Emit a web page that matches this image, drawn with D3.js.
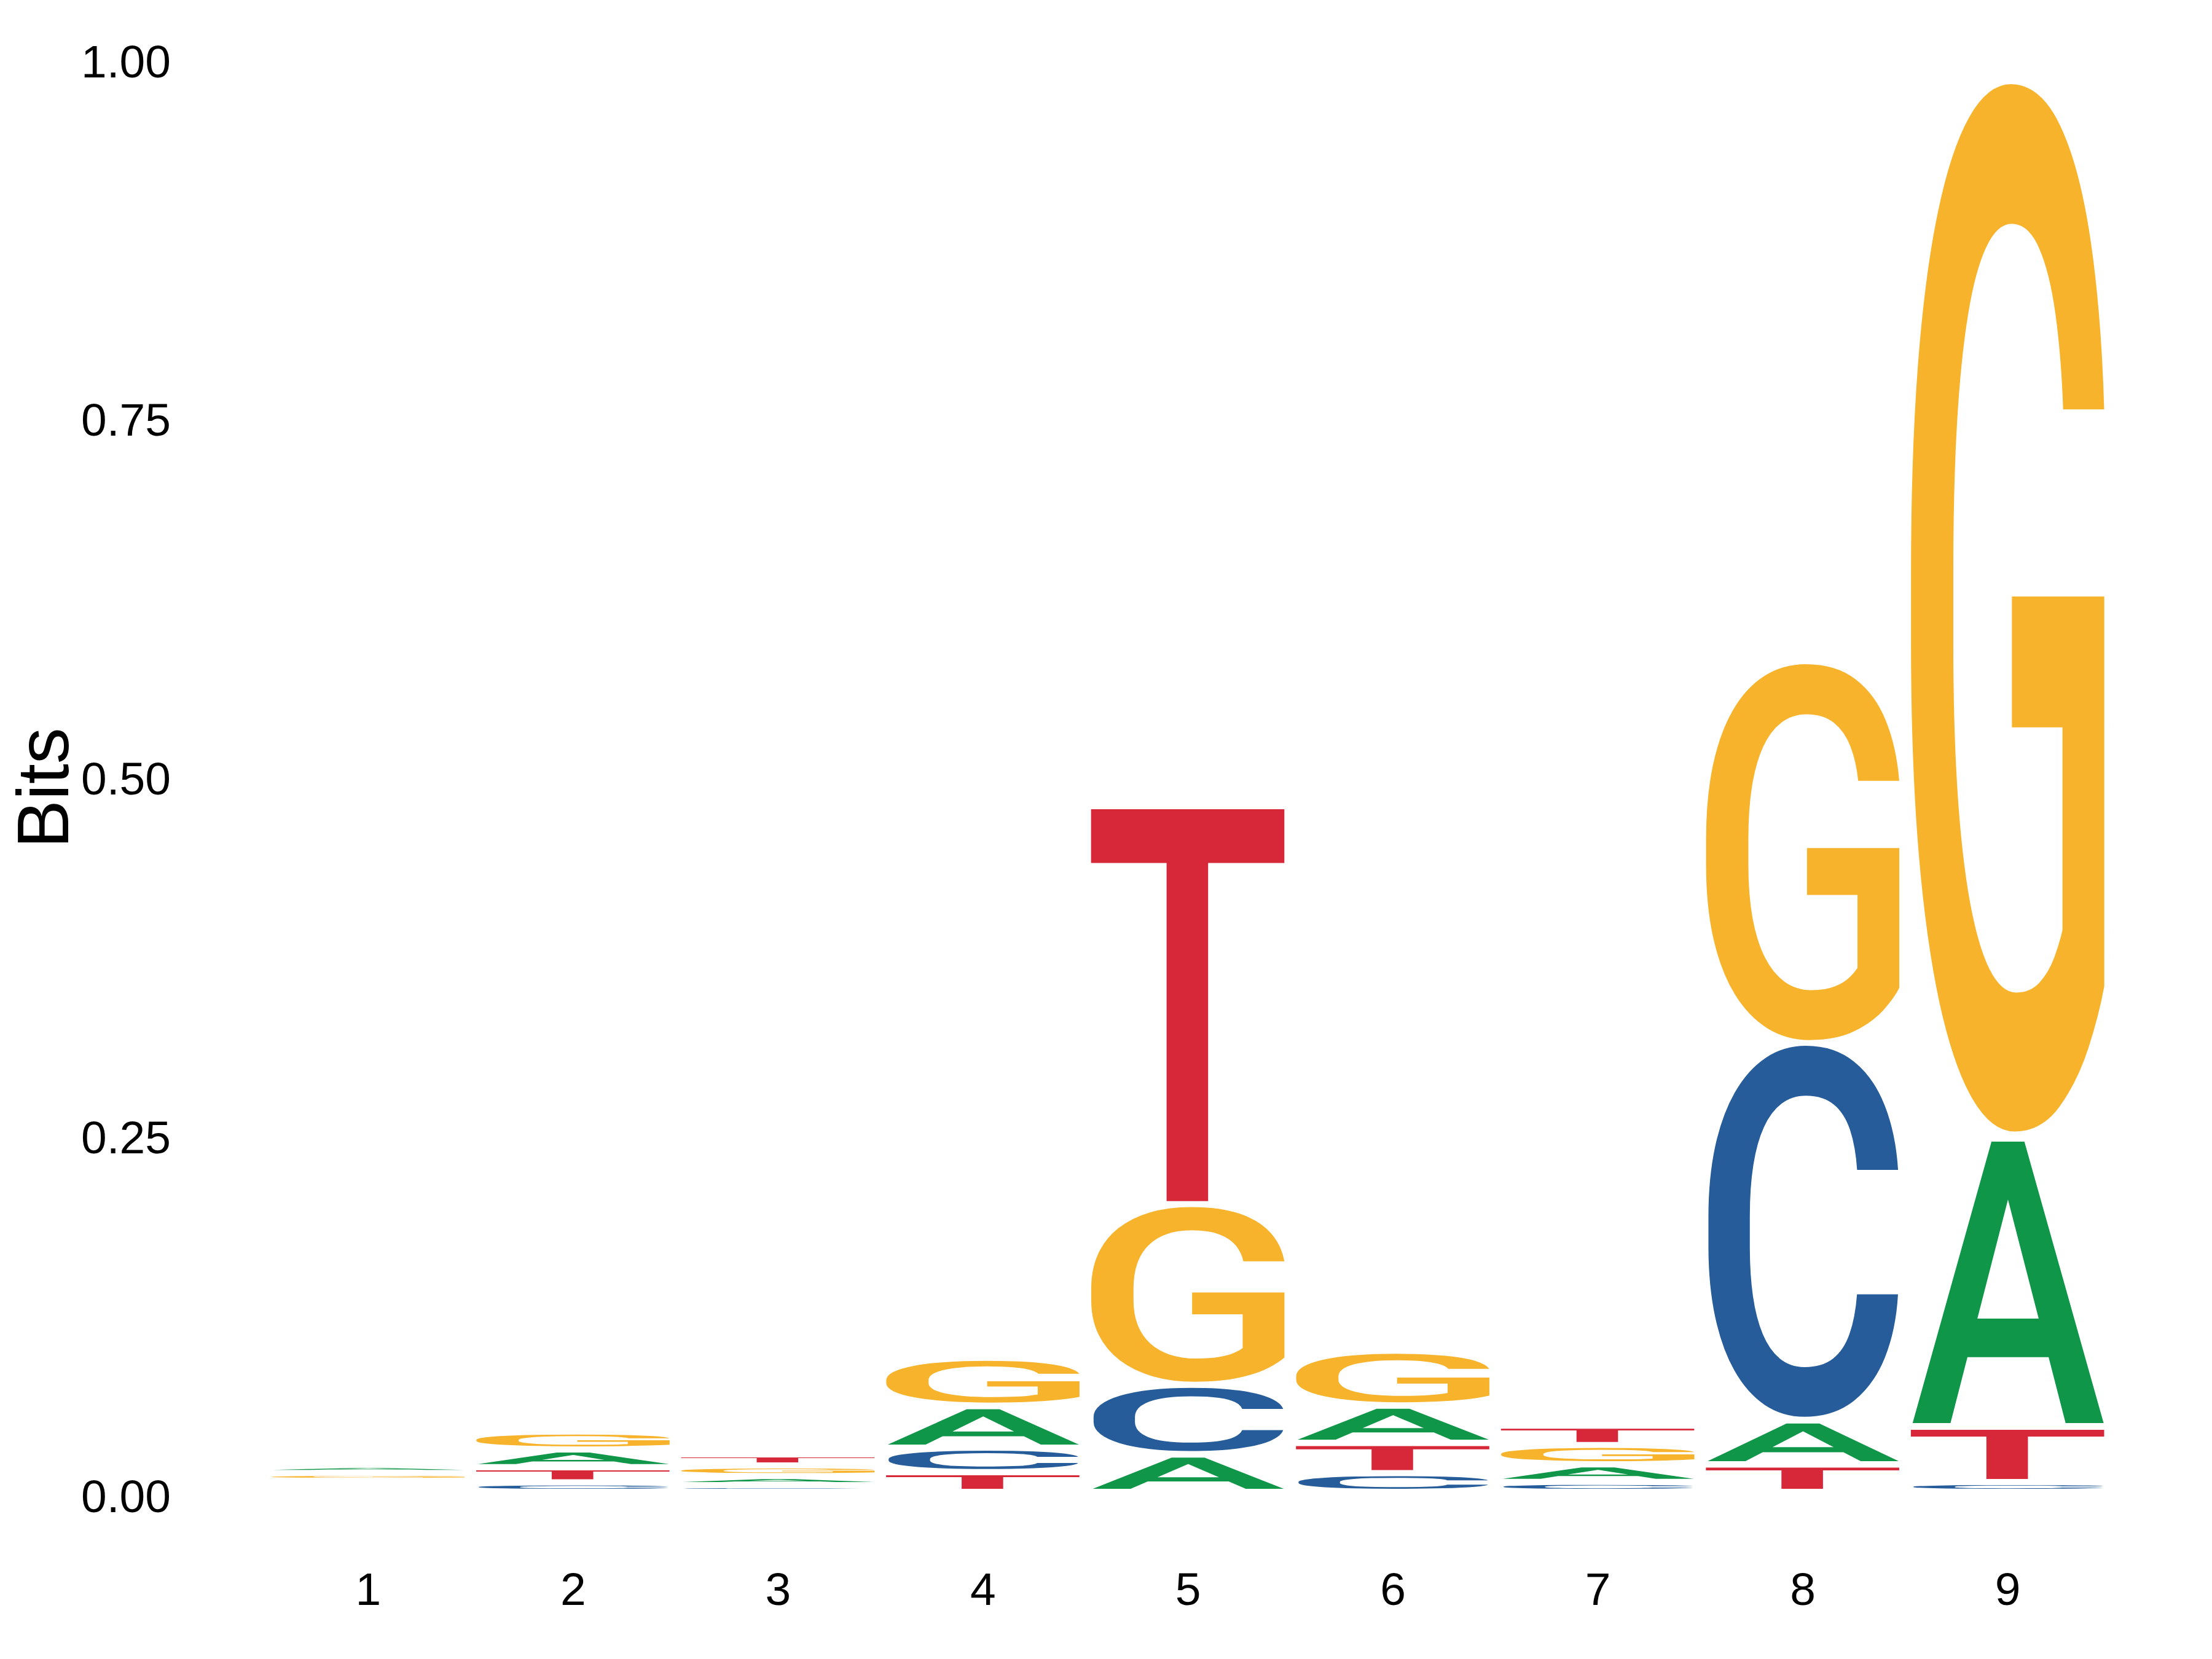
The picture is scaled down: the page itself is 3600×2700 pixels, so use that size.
<!DOCTYPE html>
<html>
<head>
<meta charset="utf-8">
<script src="https://cdn.jsdelivr.net/npm/d3@7"></script>
<style>
  html, body { margin: 0; padding: 0; background: #fff; }
</style>
</head>
<body>
<script>
// information content (bits) per position, one array per base
const positions = [1, 2, 3, 4, 5, 6, 7, 8, 9]
const bases = ["A", "C", "G", "T"]
const bitsA = [0.0056, 0.0124, 0.0063, 0.0293, 0.0263, 0.0260, 0.0123, 0.0308, 0.2030]
const bitsC = [0.0037, 0.0066, 0.0047, 0.0170, 0.0483, 0.0131, 0.0070, 0.2626, 0.0069]
const bitsG = [0.0055, 0.0125, 0.0074, 0.0333, 0.1259, 0.0380, 0.0134, 0.2660, 0.7335]
const bitsT = [0.0040, 0.0106, 0.0078, 0.0138, 0.2809, 0.0212, 0.0136, 0.0193, 0.0389]
const yTicks = [0, 0.25, 0.5, 0.75, 1]
const colors = {A: "#109648", C: "#255C99", G: "#F7B32B", T: "#D62839"}

let w = 3600, h = 2700
let gap = 10
let letterFont = "Roboto"
let letterWeight = 500

let svg = d3.select("body").append("svg")
    .attr("width", w)
    .attr("height", h)

let x = d3.scaleLinear().domain([0.5, 9.5]).range([432, 3434])
let y = d3.scaleLinear().domain([0, 1]).range([2433, 98])
let colW = (x(1) - x(0)) * 0.95

// stack letters: smallest at the bottom
let series = {A: bitsA, C: bitsC, G: bitsG, T: bitsT}
let stacks = []
positions.forEach((p, i) => {
    let col = bases.map(b => ({base: b, bits: series[b][i]}))
        .sort((a, b) => a.bits - b.bits)
    let acc = 0
    col.forEach(d => {
        d.pos = p
        d.y0 = acc
        acc += d.bits
        d.y1 = acc
        stacks.push(d)
    })
})

// ink bounds of each glyph, measured on a canvas
let ctx = document.createElement("canvas").getContext("2d")
ctx.font = letterWeight + " 100px " + letterFont
let ink = {}
bases.forEach(b => {
    let m = ctx.measureText(b)
    ink[b] = {l: m.actualBoundingBoxLeft, r: m.actualBoundingBoxRight,
              a: m.actualBoundingBoxAscent, d: m.actualBoundingBoxDescent}
})

svg.append("g").attr("class", "letters")
    .selectAll("text")
    .data(stacks.filter(d => y(d.y0) - gap - y(d.y1) > 0))
    .enter()
    .append("text")
    .text(d => d.base)
    .attr("font-family", letterFont)
    .attr("font-weight", letterWeight)
    .attr("font-size", 100)
    .attr("fill", d => colors[d.base])
    .attr("transform", d => {
        let g = ink[d.base]
        let bx0 = x(d.pos) - colW / 2
        let by0 = y(d.y1)
        let bh = y(d.y0) - gap - y(d.y1)
        let sx = colW / (g.l + g.r)
        let sy = bh / (g.a + g.d)
        return "translate(" + (bx0 + g.l * sx) + "," + (by0 + g.a * sy) + ") scale(" + sx + "," + sy + ")"
    })

//add axis
let yAxis = d3.axisLeft(y).tickValues(yTicks).tickFormat(d3.format(".2f")).tickSize(0).tickPadding(22)
let xAxis = d3.axisBottom(x).tickValues(positions).tickFormat(d3.format("d")).tickSize(0).tickPadding(126)

let gy = svg.append("g")
    .attr("transform", "translate(300,0)")
    .call(yAxis)
gy.select(".domain").remove()
gy.selectAll("text").attr("dy", "0.36em")

let gx = svg.append("g")
    .attr("transform", "translate(0," + y(0) + ")")
    .call(xAxis)
gx.select(".domain").remove()

svg.selectAll(".tick text")
    .attr("font-family", "Liberation Sans, Arial, sans-serif")
    .attr("font-size", 75)
    .attr("fill", "#000")

svg.append("text")
    .attr("transform", "translate(111," + ((y(0) + y(1)) / 2 + 17) + ") rotate(-90)")
    .attr("text-anchor", "middle")
    .attr("font-family", "Liberation Sans, Arial, sans-serif")
    .attr("font-size", 118)
    .attr("fill", "#000")
    .text("Bits")
</script>
</body>
</html>
